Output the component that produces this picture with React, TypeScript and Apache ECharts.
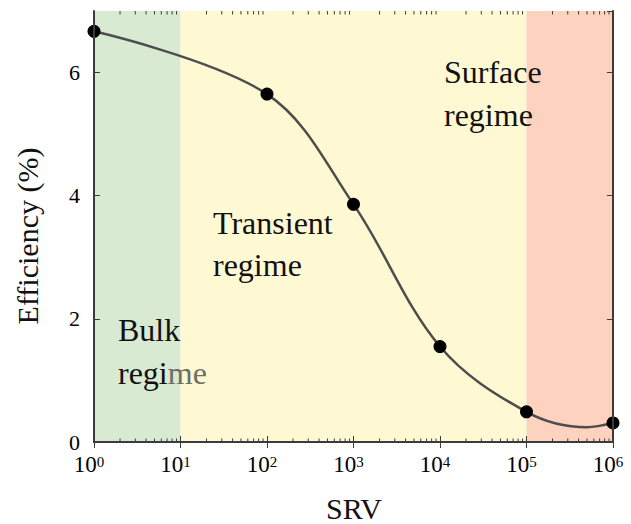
import React, { useEffect, useRef } from "react";
import * as echarts from "echarts";

// ---- data ----
// measured points (markers)
const SRV = [1, 1e2, 1e3, 1e4, 1e5, 1e6];
const EFFICIENCY = [6.67, 5.65, 3.86, 1.55, 0.49, 0.31];
// fitted curve through the points, plus its minimum
const CURVE_SRV = [1, 1e2, 1e3, 1e4, 1e5, 5e5, 1e6];
const CURVE_EFF = [6.67, 5.65, 3.86, 1.55, 0.49, 0.24, 0.31];
const X_MIN = 1;
const X_MAX = 1e6;
const Y_MIN = 0;
const Y_MAX = 7;
const Y_INTERVAL = 2;
const REGION_BOUNDS = [
  [1, 10],
  [10, 1e5],
  [1e5, 1e6],
];
const REGION_LINE1 = ["Bulk", "Transient", "Surface"];
const REGION_LINE2 = ["regime", "regime", "regime"];
const X_TITLE = "SRV";
const Y_TITLE = "Efficiency (%)";
const MINOR_MANTISSAS = [2, 3, 4, 5, 6, 7, 8, 9];
const DECADES = [1, 10, 100, 1000, 10000, 100000];
const MINOR_TICKS: number[] = [];
DECADES.forEach((d) => MINOR_MANTISSAS.forEach((m) => MINOR_TICKS.push(m * d)));

// ---- styles ----
const FONT = '"Liberation Serif", "DejaVu Serif", serif';
const AXIS_COLOR = "#3c3c3c";
const REGION_COLORS = ["#d9ead3", "#fff9d3", "#fdd3c0"];
const LINE_COLOR = "#4d4d4d";
const REGION_TEXT_POS = [
  [118, 330, 373],
  [213, 223, 265],
  [444, 72, 115],
];

export default function App() {
  const ref = useRef<HTMLDivElement>(null);

  useEffect(() => {
    document.body.style.margin = "0";
    const chart = echarts.init(ref.current!, undefined, { renderer: "svg" });

    const axisLine = { show: true, lineStyle: { color: AXIS_COLOR, width: 2 } };
    const xBase: any = {
      type: "log",
      logBase: 10,
      min: X_MIN,
      max: X_MAX,
      splitNumber: 6,
      z: 10,
      axisLine,
      axisTick: { show: true, inside: true, length: 6, lineStyle: { color: AXIS_COLOR, width: 1 } },
      minorTick: { show: false },
      splitLine: { show: false },
    };
    const yBase: any = {
      type: "value",
      min: Y_MIN,
      max: Y_MAX,
      interval: Y_INTERVAL,
      z: 10,
      axisLine,
      axisTick: { show: true, inside: true, length: 6, lineStyle: { color: AXIS_COLOR, width: 1 } },
      splitLine: { show: false },
    };

    const markData = REGION_BOUNDS.map((b, i) => [
      { xAxis: b[0], itemStyle: { color: REGION_COLORS[i] } },
      { xAxis: b[1] },
    ]);

    const txt = (size: number, extra: any) => ({
      font: `${size}px ${FONT}`,
      fill: "#111",
      align: "left",
      verticalAlign: "middle",
      ...extra,
    });

    const graphics: any[] = [];
    REGION_LINE1.forEach((t, i) => {
      const [x, y1, y2] = REGION_TEXT_POS[i];
      graphics.push({ type: "text", x, y: y1, z: 100, style: txt(32, { text: t }) });
      if (i === 0) {
        graphics.push({
          type: "text",
          x,
          y: y2,
          z: 100,
          style: txt(32, {
            text: "{a|regi}{b|me}",
            rich: {
              a: { font: `32px ${FONT}`, fill: "#111" },
              b: { font: `32px ${FONT}`, fill: "#6e6e66" },
            },
          }),
        });
      } else {
        graphics.push({ type: "text", x, y: y2, z: 100, style: txt(32, { text: REGION_LINE2[i] }) });
      }
    });
    graphics.push({ type: "text", x: 354, y: 508, style: txt(30, { text: X_TITLE, align: "center" }) });
    graphics.push({
      type: "text",
      x: 27,
      y: 236,
      rotation: Math.PI / 2,
      style: txt(30, { text: Y_TITLE, align: "center" }),
    });

    chart.setOption({
      animation: false,
      backgroundColor: "#ffffff",
      textStyle: { fontFamily: FONT },
      grid: { left: 94, right: 18, top: 11, bottom: 82, containLabel: false },
      xAxis: [
        {
          ...xBase,
          position: "bottom",
          axisLabel: {
            show: true,
            margin: 11,
            padding: [0, 10, 0, 0],
            fontFamily: FONT,
            formatter: (v: number) => `{b|10}{s|${Math.round(Math.log10(v))}}`,
            rich: {
              b: { fontSize: 23, fontFamily: FONT, color: "#000", verticalAlign: "bottom" },
              s: { fontSize: 15, fontFamily: FONT, color: "#000", verticalAlign: "bottom", padding: [0, 0, 7, 0] },
            },
          },
        },
        { ...xBase, position: "top", axisLabel: { show: false } },
      ],
      yAxis: [
        {
          ...yBase,
          position: "left",
          axisLabel: {
            show: true,
            margin: 14,
            fontSize: 22,
            fontFamily: FONT,
            color: "#000",
            showMaxLabel: false,
            formatter: (v: number) => (v > 6 ? "" : String(v)),
          },
        },
        { ...yBase, position: "right", axisLabel: { show: false } },
      ],
      series: [
        {
          type: "line",
          name: "fit",
          xAxisIndex: 0,
          yAxisIndex: 0,
          data: CURVE_SRV.map((x, i) => [x, CURVE_EFF[i]]),
          smooth: 0.35,
          showSymbol: false,
          symbol: "none",
          clip: false,
          z: 3,
          lineStyle: { color: LINE_COLOR, width: 2.5 },
          markArea: { silent: true, data: markData },
        },
        {
          type: "scatter",
          name: "data",
          xAxisIndex: 0,
          yAxisIndex: 0,
          data: SRV.map((x, i) => [x, EFFICIENCY[i]]),
          symbol: "circle",
          symbolSize: 13,
          clip: false,
          z: 4,
          itemStyle: { color: "#000", opacity: 1 },
        },
        {
          type: "custom",
          xAxisIndex: 0,
          yAxisIndex: 0,
          silent: true,
          z: 12,
          clip: false,
          data: MINOR_TICKS.map((v) => [v]),
          renderItem: (params: any, api: any) => {
            const v = api.value(0);
            const b = api.coord([v, Y_MIN]);
            const t = api.coord([v, Y_MAX]);
            const style = { stroke: AXIS_COLOR, lineWidth: 1 };
            return {
              type: "group",
              children: [
                { type: "line", shape: { x1: b[0], y1: b[1], x2: b[0], y2: b[1] - 3.5 }, style },
                { type: "line", shape: { x1: t[0], y1: t[1], x2: t[0], y2: t[1] + 3.5 }, style },
              ],
            };
          },
        },
      ],
      graphic: graphics,
    });

    return () => chart.dispose();
  }, []);

  return <div ref={ref} style={{ width: 631, height: 524 }} />;
}
